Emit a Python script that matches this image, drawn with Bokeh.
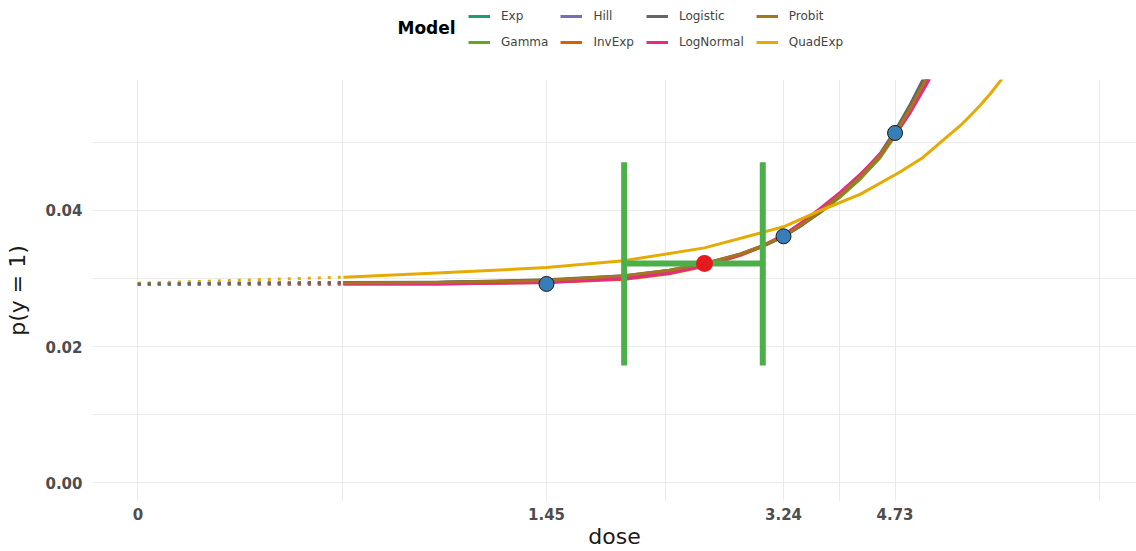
from bokeh.plotting import figure
from bokeh.layouts import column
from bokeh.models import Range1d, FixedTicker, Legend, LegendItem, Label
from bokeh.embed import file_html
from bokeh.resources import INLINE

# ---- data ----------------------------------------------------------------
# observed dose groups and proportions
obs_dose = [1.45, 3.24, 4.73]
obs_p = [0.0292, 0.0362, 0.0514]

# model-averaged BMD with its lower / upper limits
bmd = 2.478
bmd_p = 0.0322
bmdl = 1.887
bmdu = 3.02
ci_low = 0.0172
ci_high = 0.0471

# where dose 0 is placed on the log axis
zero_pos = 0.3625

# fitted curves (dose grid shared by the first seven models)
curve_dose = [0.728, 1.0, 1.45, 1.89, 2.2, 2.48, 2.8, 3.0, 3.24, 3.43, 3.67,
              3.93, 4.21, 4.5, 4.73, 4.98, 5.26, 5.5]
exp_p = [0.02935, 0.0294, 0.0297, 0.0303, 0.0311, 0.0321, 0.0335, 0.0346, 0.0362,
         0.0377, 0.0398, 0.0422, 0.0450, 0.0481, 0.0513, 0.0550, 0.0594, 0.0636]
gamma_p = [0.02935, 0.0294, 0.0297, 0.0303, 0.0311, 0.0321, 0.0335, 0.0346, 0.0362,
           0.0377, 0.0397, 0.0420, 0.0447, 0.0478, 0.0510, 0.0545, 0.0587, 0.0626]
hill_p = [0.02935, 0.0294, 0.0297, 0.0303, 0.0311, 0.0321, 0.0335, 0.0346, 0.0362,
          0.0378, 0.0399, 0.0423, 0.0450, 0.0481, 0.0513, 0.0549, 0.0592, 0.0632]
invexp_p = [0.0292, 0.0292, 0.0294, 0.0299, 0.0307, 0.0318, 0.0334, 0.0346, 0.0363,
            0.0380, 0.0401, 0.0425, 0.0452, 0.0482, 0.0512, 0.0547, 0.0590, 0.0628]
logistic_p = [0.0294, 0.02945, 0.0298, 0.0304, 0.0312, 0.0322, 0.0336, 0.0347, 0.0362,
              0.0377, 0.0398, 0.0423, 0.0452, 0.0484, 0.0517, 0.0556, 0.0602, 0.0645]
lognormal_p = [0.0292, 0.0292, 0.0294, 0.0300, 0.0308, 0.0319, 0.0335, 0.0347, 0.0364,
               0.0381, 0.0403, 0.0427, 0.0454, 0.0483, 0.0511, 0.0544, 0.0585, 0.0620]
probit_p = [0.02935, 0.0294, 0.0297, 0.0304, 0.0312, 0.0322, 0.0336, 0.0347, 0.0362,
            0.0378, 0.0399, 0.0423, 0.0450, 0.0481, 0.0513, 0.0550, 0.0594, 0.0635]

quad_dose = [0.728, 1.0, 1.45, 1.883, 2.478, 2.996, 3.24, 3.673, 4.207, 4.817,
             5.2, 5.518, 5.906, 6.1, 6.32, 6.54, 6.765, 7.1]
quadexp_p = [0.0302, 0.0308, 0.0316, 0.0326, 0.0345, 0.0367, 0.0376, 0.0400, 0.0424,
             0.0457, 0.0478, 0.0500, 0.0525, 0.0539, 0.0555, 0.0572, 0.0591, 0.0620]

# response at dose 0 for each model
p_at_zero = {"Exp": 0.0292, "Gamma": 0.0292, "Hill": 0.0292, "InvExp": 0.0292,
             "Logistic": 0.0292, "LogNormal": 0.0292, "Probit": 0.0292, "QuadExp": 0.0293}

models = ["Exp", "Gamma", "Hill", "InvExp", "Logistic", "LogNormal", "Probit", "QuadExp"]
colors = {"Exp": "#1B9E77", "Gamma": "#66A61E", "Hill": "#7570B3", "InvExp": "#D95F02",
          "Logistic": "#666666", "LogNormal": "#E7298A", "Probit": "#A6761D",
          "QuadExp": "#E6AB02"}
curves = {"Exp": (curve_dose, exp_p), "Gamma": (curve_dose, gamma_p),
          "Hill": (curve_dose, hill_p), "InvExp": (curve_dose, invexp_p),
          "Logistic": (curve_dose, logistic_p), "LogNormal": (curve_dose, lognormal_p),
          "Probit": (curve_dose, probit_p), "QuadExp": (quad_dose, quadexp_p)}

x_ticks = [zero_pos, 1.45, 3.24, 4.73]
x_tick_labels = ["0", "1.45", "3.24", "4.73"]
x_grid = [zero_pos, 0.725, 1.45, 2.1675, 3.24, 3.915, 4.73, 9.46]
y_ticks = [0.0, 0.02, 0.04]
y_grid = [0.0, 0.01, 0.02, 0.03, 0.04, 0.05]

FONT = "DejaVu Sans"
W = 1136

# ---- main panel ----------------------------------------------------------
p = figure(width=W, height=472, x_axis_type="log",
           x_range=Range1d(0.3108, 10.73), y_range=Range1d(-0.00279, 0.05926),
           output_backend="svg", toolbar_location=None,
           min_border_left=92, min_border_right=0, min_border_top=0,
           min_border_bottom=50)
p.outline_line_color = None
p.background_fill_color = "white"
p.border_fill_color = "white"

for ax in (p.xaxis[0], p.yaxis[0]):
    ax.axis_line_color = None
    ax.major_tick_line_color = None
    ax.minor_tick_line_color = None
    ax.major_tick_out = 0
    ax.major_tick_in = 0
    ax.minor_tick_out = 0
    ax.minor_tick_in = 0
    ax.major_label_text_font = FONT
    ax.major_label_text_font_style = "bold"
    ax.major_label_text_font_size = "15px"
    ax.major_label_text_color = "#4d4d4d"
    ax.axis_label_text_font = FONT
    ax.axis_label_text_font_style = "normal"
    ax.axis_label_text_font_size = "22px"
    ax.axis_label_text_color = "#1a1a1a"

p.xaxis.ticker = FixedTicker(ticks=x_ticks)
p.xaxis.major_label_overrides = dict(zip(x_ticks, x_tick_labels))
p.xaxis.axis_label = "dose"
p.xaxis.major_label_standoff = 6
p.xaxis.axis_label_standoff = 1

p.yaxis.ticker = FixedTicker(ticks=y_ticks)
p.yaxis.major_label_overrides = {t: f"{t:.2f}" for t in y_ticks}
p.yaxis.axis_label = "p(y = 1)"
p.yaxis.major_label_standoff = 10
p.yaxis.axis_label_standoff = 12

p.xgrid.ticker = FixedTicker(ticks=x_grid)
p.ygrid.ticker = FixedTicker(ticks=y_grid)
for g in (p.xgrid[0], p.ygrid[0]):
    g.grid_line_color = "#ebebeb"
    g.grid_line_width = 1

# dotted extension from dose 0 to the first fitted dose
dot_order = ["Exp", "Gamma", "Hill", "InvExp", "LogNormal", "Probit", "QuadExp", "Logistic"]
for m in dot_order:
    d, v = curves[m]
    p.line([zero_pos, d[0]], [p_at_zero[m], v[0]], line_color=colors[m],
           line_width=3, line_dash="3 7", line_cap="butt")

# fitted model curves
for m in models:
    d, v = curves[m]
    p.line(d, v, line_color=colors[m], line_width=3, line_join="round")

# BMD confidence interval and point estimate
p.segment(x0=[bmdl, bmdu], y0=[ci_low, ci_low], x1=[bmdl, bmdu], y1=[ci_high, ci_high],
          line_color="#4DAF4A", line_width=6, line_cap="butt")
p.segment(x0=[bmdl], y0=[bmd_p], x1=[bmdu], y1=[bmd_p],
          line_color="#4DAF4A", line_width=6, line_cap="butt")
p.scatter([bmd], [bmd_p], size=17, fill_color="#E41A1C", line_color=None)

# observed data
p.scatter(obs_dose, obs_p, size=15, fill_color="#377EB8", line_color="#1a1a1a",
          line_width=1)

# ---- legend strip --------------------------------------------------------
# the strip's ranges keep its copies of the curves out of view; they only
# feed the legend glyphs
lg = figure(width=W, height=79, output_backend="svg", toolbar_location=None,
            x_axis_location=None, y_axis_location=None,
            min_border_left=0, min_border_right=0, min_border_top=0,
            min_border_bottom=0, x_range=Range1d(0, 1), y_range=Range1d(1, 2))
lg.outline_line_color = None
lg.xgrid.visible = False
lg.ygrid.visible = False
items = []
for m in models:
    d, v = curves[m]
    r = lg.line(d, v, line_color=colors[m], line_width=3)
    items.append(LegendItem(label=m, renderers=[r]))

legend = Legend(items=items, orientation="vertical", nrows=2,
                location=(376, 30),
                label_text_font=FONT, label_text_font_size="12px",
                label_text_color="#444444",
                glyph_width=22, glyph_height=14, label_height=14,
                label_standoff=11, spacing=12, padding=0, margin=0,
                border_line_color=None, background_fill_alpha=0)
lg.add_layout(legend)

lg.add_layout(Label(x=305, y=52, x_units="screen", y_units="screen", text="Model",
                    text_font=FONT, text_font_size="17px", text_font_style="bold",
                    text_color="#000000", text_baseline="middle", text_align="left"))

layout = column(lg, p, spacing=0)
open("out.html", "w").write(file_html(layout, INLINE))
